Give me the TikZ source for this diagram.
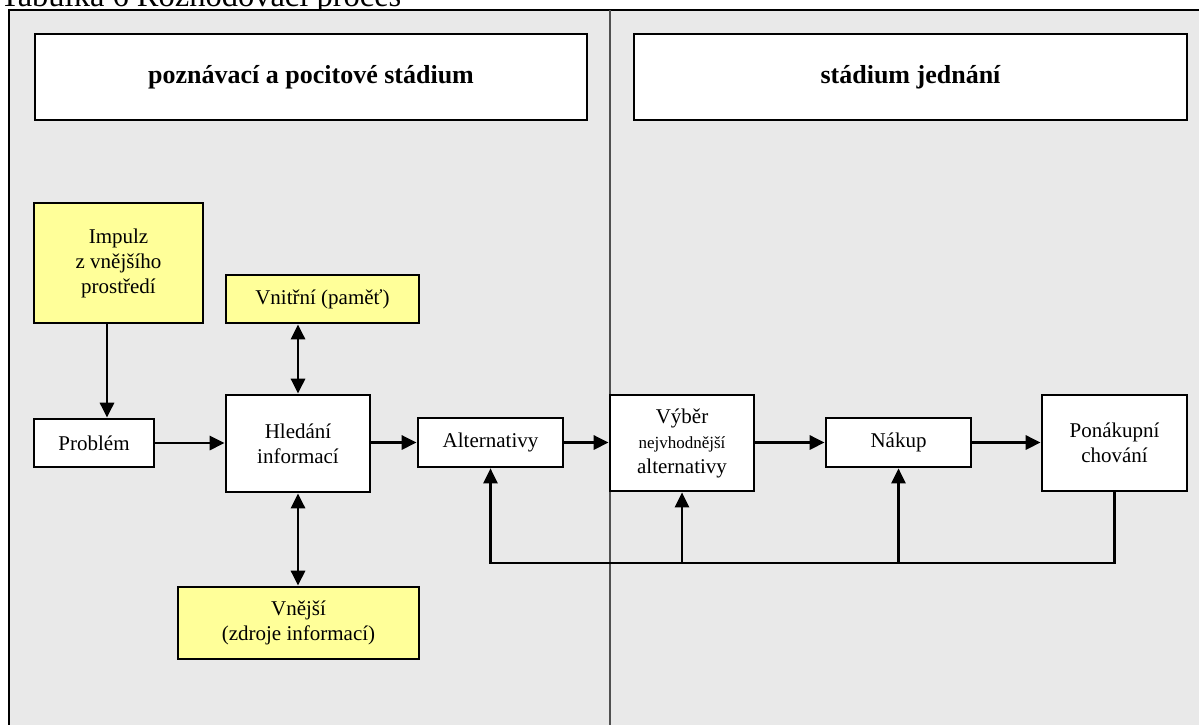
\documentclass[tikz,border=0pt]{standalone}
\usepackage{fontspec}
\setmainfont{Liberation Serif}
\usetikzlibrary{arrows.meta}
\definecolor{panel}{HTML}{E9E9E9}
\definecolor{note}{HTML}{FFFF99}
\definecolor{divider}{HTML}{505050}
\tikzset{
  box/.style={draw=black, line width=2.7pt, fill=white, inner sep=0pt, align=center,
    font=\fontsize{21}{25}\selectfont},
  hint/.style={box, fill=note},
  head/.style={box, font=\fontsize{26}{30}\selectfont\bfseries},
  tip/.tip={Triangle[length=15pt,width=14pt]},
  flow/.style={line width=2.9pt, -tip},
  both/.style={line width=2.9pt, tip-tip},
}
\begin{document}
\begin{tikzpicture}[x=1pt,y=-1pt]
\useasboundingbox (0,0) rectangle (1199,725);

% table caption, cut by the page top
\node[anchor=base west, inner sep=0pt, font=\fontsize{32.5}{36}\selectfont] (caption) at (0,7)
  {Tabulka 6 Rozhodovací proces};

% grey table area with the two columns
\fill[panel] (9,10) rectangle (1215,740);
\draw[line width=2.2pt] (9,740) -- (9,10) -- (1215,10);
\draw[divider, line width=2.2pt] (610,10) -- (610,740);

% column headings
\node[head, minimum width=552pt, minimum height=86pt] (head1) at (311,77) {poznávací a pocitové stádium};
\node[head, minimum width=553pt, minimum height=86pt] (head2) at (910.5,77) {stádium jednání};

% process boxes
\node[hint, minimum width=169pt, minimum height=120pt] (impulz) at (118.5,263)
  {Impulz\\z vnějšího\\prostředí};
\node[hint, minimum width=193pt, minimum height=48pt] (vnitrni) at (322.5,299) {Vnitřní (paměť)};
\node[box, minimum width=120pt, minimum height=48pt] (problem) at (94,443) {Problém};
\node[box, minimum width=144pt, minimum height=97pt] (hledani) at (298,443.5) {Hledání\\informací};
\node[hint, minimum width=241pt, minimum height=72pt] (vnejsi) at (298.5,623)
  {Vnější\\(zdroje informací)};
\node[box, minimum width=145pt, minimum height=49pt] (altern) at (490.5,442.5) {Alternativy};
\node[box, minimum width=144pt, minimum height=96pt] (vyber) at (682,443)
  {Výběr\\{\fontsize{17}{24}\selectfont nejvhodnější}\\alternativy};
\node[box, minimum width=145pt, minimum height=49pt] (nakup) at (898.5,442.5) {Nákup};
\node[box, minimum width=145pt, minimum height=96pt] (ponak) at (1114.5,443) {Ponákupní\\chování};

% main flow
\draw[flow] ([xshift=-11.5pt]impulz.south) -- ([xshift=-11.5pt]impulz.south |- problem.north);
\draw[flow] (problem.east) -- (hledani.west |- problem.east);
\draw[both] (hledani.north) -- (hledani.north |- vnitrni.south);
\draw[both] (hledani.south) -- (hledani.south |- vnejsi.north);
\draw[flow] (hledani.east |- altern.west) -- (altern.west);
\draw[flow] (altern.east) -- (vyber.west |- altern.east);
\draw[flow] (vyber.east |- nakup.west) -- (nakup.west);
\draw[flow] (nakup.east) -- (ponak.west |- nakup.east);

% feedback from post-purchase behaviour
\coordinate (base) at (0,563);
\draw[flow, line width=2.3pt] (ponak.south) -- (ponak.south |- base) -- (altern.south |- base) -- (altern.south);
\draw[flow, line width=2.6pt] (vyber.south |- base) -- (vyber.south);
\draw[flow, line width=2.6pt] (nakup.south |- base) -- (nakup.south);
\end{tikzpicture}
\end{document}
